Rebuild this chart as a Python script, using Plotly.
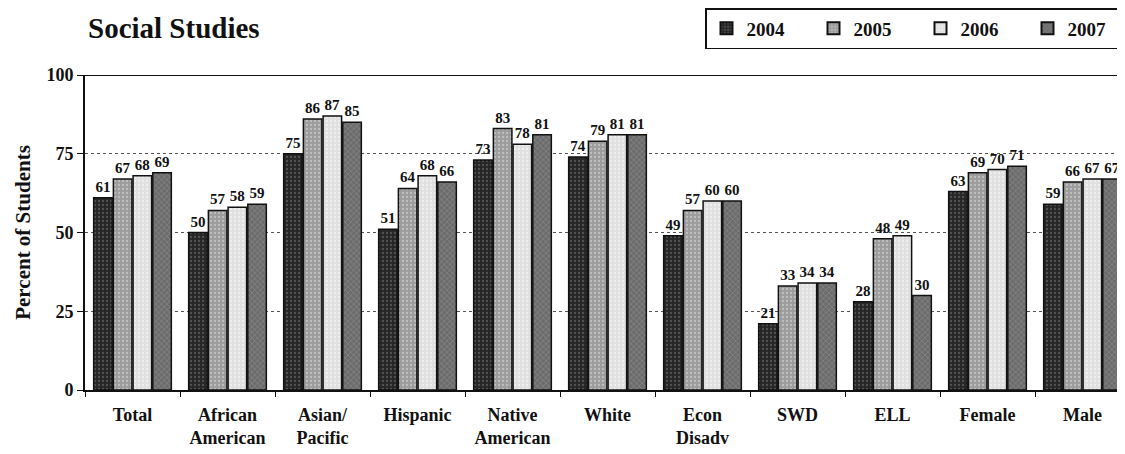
import plotly.graph_objects as go

categories = ["Total", "African<br>American", "Asian/<br>Pacific", "Hispanic", "Native<br>American",
              "White", "Econ<br>Disadv", "SWD", "ELL", "Female", "Male"]
years = ["2004", "2005", "2006", "2007"]
v2004 = [61, 50, 75, 51, 73, 74, 49, 21, 28, 63, 59]
v2005 = [67, 57, 86, 64, 83, 79, 57, 33, 48, 69, 66]
v2006 = [68, 58, 87, 68, 78, 81, 60, 34, 49, 70, 67]
v2007 = [69, 59, 85, 66, 81, 81, 60, 34, 30, 71, 67]
series = [v2004, v2005, v2006, v2007]
yticks = [0, 25, 50, 75, 100]

colors = ["#262626", "#9c9c9c", "#e0e0e0", "#6c6c6c"]
pat_fg = ["#808080", "#e2e2e2", "#ffffff", "#b0b0b0"]
pat_shape = [".", ".", ".", "x"]

FONT = "Liberation Serif, Times New Roman, serif"
cat_labels = ["<b>" + c.replace("<br>", "</b><br><b>") + "</b>" for c in categories]

# page has 8px body margin: figure coords = window coords - 8
W, H = 1117, 446
L, T, B = 77, 67, 64
plot_w = W - L
plot_h = H - T - B
cat_px = 95.0

fig = go.Figure()
for i, (yr, vals) in enumerate(zip(years, series)):
    fig.add_trace(go.Bar(
        name="<b>" + yr + "</b>", x=categories, y=vals,
        text=["<b>" + str(v) + "</b>" for v in vals], textposition="outside",
        textfont=dict(family=FONT, size=15, color="#111111"),
        cliponaxis=False,
        marker=dict(color=colors[i], line=dict(color="#111", width=1.5),
                    pattern=dict(shape=pat_shape[i], fgcolor=pat_fg[i], size=4, solidity=0.25)),
    ))

fig.update_layout(
    width=W, height=H,
    margin=dict(l=L, r=0, t=T, b=B, autoexpand=False),
    paper_bgcolor="white", plot_bgcolor="white",
    barmode="group", bargap=0.17, bargroupgap=0.06,
    font=dict(family=FONT, color="#111"),
    title=dict(text="<b>Social Studies</b>", x=80 / W, xanchor="left", y=1 - 20 / H, yanchor="middle",
               font=dict(family=FONT, size=29, color="#111")),
    legend=dict(orientation="h", x=(697 - L) / plot_w, xanchor="left", y=(T + plot_h) / plot_h, yanchor="top",
                bordercolor="#111", borderwidth=1.5, bgcolor="white",
                font=dict(family=FONT, size=19, color="#111"),
                entrywidth=62, entrywidthmode="pixels", itemsizing="constant",
                traceorder="normal"),
)
fig.update_xaxes(
    range=[-0.5, -0.5 + plot_w / cat_px],
    tickson="boundaries", ticks="outside", ticklen=5, tickcolor="#111",
    showline=True, linecolor="#111", linewidth=2, showgrid=False,
    tickvals=categories, ticktext=cat_labels, tickangle=0, ticklabelstandoff=7,
    tickfont=dict(family=FONT, size=18, color="#111"),
)
fig.update_yaxes(
    range=[0, 100], tickvals=yticks, ticktext=["<b>%d</b>" % t for t in yticks],
    ticks="outside", ticklen=6, tickcolor="#111",
    showline=True, linecolor="#111", linewidth=2, mirror=False,
    showgrid=True, gridcolor="#555", griddash="dot", gridwidth=1,
    tickfont=dict(family=FONT, size=18, color="#111"),
    title=dict(text="<b>Percent of Students</b>", font=dict(family=FONT, size=21, color="#111"), standoff=10),
    zeroline=False,
)
fig.add_shape(type="line", xref="paper", yref="y", x0=0, x1=1, y0=100, y1=100,
              line=dict(color="#111", width=2))

fig.write_html("out.html")
